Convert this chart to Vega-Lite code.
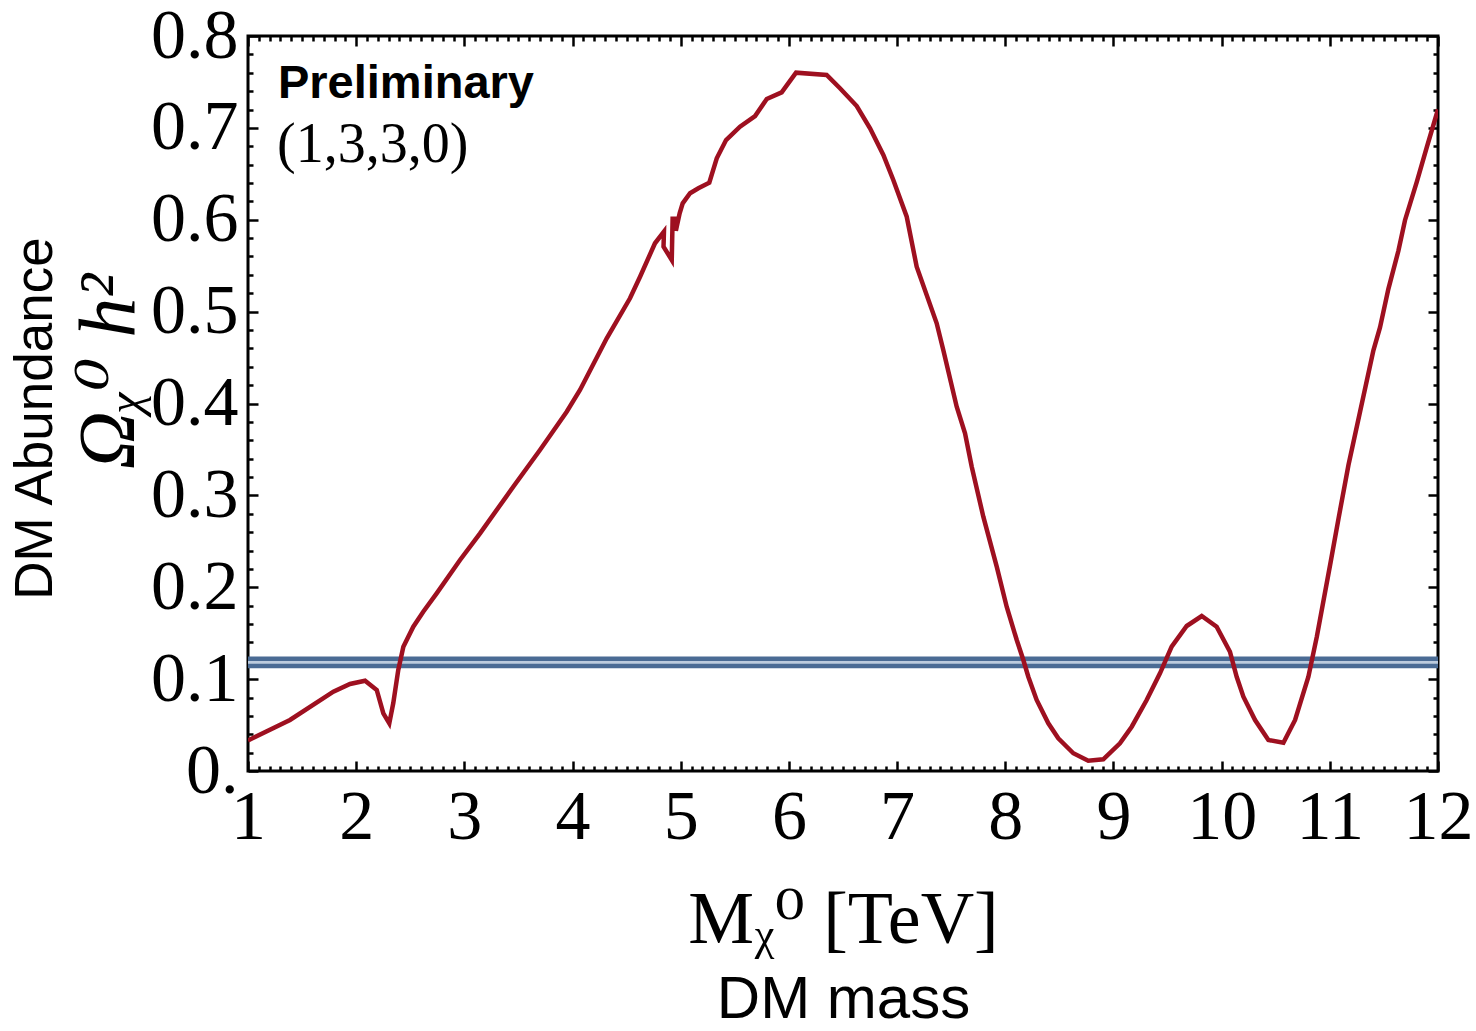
{
  "$schema": "https://vega.github.io/schema/vega-lite/v6.json",
  "width": 1190,
  "height": 735,
  "autosize": {"type": "none"},
  "padding": {"left": 248, "top": 36, "right": 38, "bottom": 260},
  "background": "white",
  "config": {
    "view": {"stroke": "black", "strokeWidth": 3},
    "axis": {"grid": false, "domain": false, "tickColor": "black", "labelColor": "black", "titleColor": "black", "tickWidth": 2.5}
  },
  "datasets": {
    "curve": [
      {"m": 1.000, "o": 0.0332}, {"m": 1.388, "o": 0.0555}, {"m": 1.789, "o": 0.0863}, {"m": 1.943, "o": 0.0947},
      {"m": 2.082, "o": 0.0983}, {"m": 2.190, "o": 0.0882}, {"m": 2.251, "o": 0.0628}, {"m": 2.306, "o": 0.0519},
      {"m": 2.343, "o": 0.0740}, {"m": 2.389, "o": 0.1099}, {"m": 2.436, "o": 0.1353}, {"m": 2.528, "o": 0.1571},
      {"m": 2.620, "o": 0.1734}, {"m": 2.744, "o": 0.1934}, {"m": 2.960, "o": 0.2297}, {"m": 3.145, "o": 0.2587},
      {"m": 3.452, "o": 0.3094}, {"m": 3.699, "o": 0.3494}, {"m": 3.946, "o": 0.3911}, {"m": 4.069, "o": 0.4147},
      {"m": 4.316, "o": 0.4710}, {"m": 4.531, "o": 0.5145}, {"m": 4.624, "o": 0.5380}, {"m": 4.762, "o": 0.5744},
      {"m": 4.845, "o": 0.5870}, {"m": 4.841, "o": 0.5707}, {"m": 4.917, "o": 0.5562}, {"m": 4.925, "o": 0.6010},
      {"m": 4.955, "o": 0.6010}, {"m": 4.955, "o": 0.5880}, {"m": 4.990, "o": 0.6070}, {"m": 5.018, "o": 0.6179},
      {"m": 5.086, "o": 0.6288}, {"m": 5.163, "o": 0.6342}, {"m": 5.264, "o": 0.6403}, {"m": 5.333, "o": 0.6669},
      {"m": 5.419, "o": 0.6868}, {"m": 5.548, "o": 0.7013}, {"m": 5.687, "o": 0.7129}, {"m": 5.795, "o": 0.7314},
      {"m": 5.933, "o": 0.7387}, {"m": 6.066, "o": 0.7601}, {"m": 6.349, "o": 0.7576}, {"m": 6.472, "o": 0.7431},
      {"m": 6.627, "o": 0.7238}, {"m": 6.750, "o": 0.6995}, {"m": 6.873, "o": 0.6705}, {"m": 6.965, "o": 0.6433},
      {"m": 7.089, "o": 0.6033}, {"m": 7.181, "o": 0.5489}, {"m": 7.366, "o": 0.4873}, {"m": 7.427, "o": 0.4582},
      {"m": 7.551, "o": 0.3965}, {"m": 7.628, "o": 0.3676}, {"m": 7.690, "o": 0.3312}, {"m": 7.797, "o": 0.2768},
      {"m": 7.921, "o": 0.2224}, {"m": 8.013, "o": 0.1788}, {"m": 8.106, "o": 0.1426}, {"m": 8.167, "o": 0.1208},
      {"m": 8.213, "o": 0.1026}, {"m": 8.290, "o": 0.0773}, {"m": 8.398, "o": 0.0519}, {"m": 8.490, "o": 0.0356},
      {"m": 8.629, "o": 0.0193}, {"m": 8.767, "o": 0.0112}, {"m": 8.906, "o": 0.0127}, {"m": 9.060, "o": 0.0301},
      {"m": 9.169, "o": 0.0482}, {"m": 9.307, "o": 0.0773}, {"m": 9.430, "o": 0.1063}, {"m": 9.538, "o": 0.1353},
      {"m": 9.677, "o": 0.1578}, {"m": 9.816, "o": 0.1687}, {"m": 9.954, "o": 0.1571}, {"m": 10.077, "o": 0.1298},
      {"m": 10.139, "o": 0.1026}, {"m": 10.201, "o": 0.0809}, {"m": 10.309, "o": 0.0555}, {"m": 10.432, "o": 0.0337},
      {"m": 10.571, "o": 0.0308}, {"m": 10.679, "o": 0.0555}, {"m": 10.802, "o": 0.1026}, {"m": 10.880, "o": 0.1462},
      {"m": 11.003, "o": 0.2245}, {"m": 11.080, "o": 0.2745}, {"m": 11.172, "o": 0.3328}, {"m": 11.280, "o": 0.3912},
      {"m": 11.403, "o": 0.4579}, {"m": 11.464, "o": 0.4828}, {"m": 11.541, "o": 0.5245}, {"m": 11.634, "o": 0.5662},
      {"m": 11.695, "o": 0.5995}, {"m": 11.804, "o": 0.6412}, {"m": 11.896, "o": 0.6787}, {"m": 12.000, "o": 0.7200}
    ],
    "band": [{"lo": 0.1143, "hi": 0.1221}],
    "limits": [{"v": 0.1143}, {"v": 0.1221}],
    "notes": [{"label": "Preliminary"}, {"label": "(1,3,3,0)"}]
  },
  "layer": [
    {
      "data": {"name": "band"},
      "mark": {"type": "rect", "color": "#bccbdd"},
      "encoding": {
        "y": {"field": "lo", "type": "quantitative", "axis": null},
        "y2": {"field": "hi"}
      }
    },
    {
      "data": {"name": "limits"},
      "mark": {"type": "rule", "color": "#4a6b94", "strokeWidth": 4.5},
      "encoding": {
        "y": {"field": "v", "type": "quantitative", "axis": null}
      }
    },
    {
      "data": {"name": "curve"},
      "mark": {"type": "line", "strokeOpacity": 0},
      "encoding": {
        "order": {"value": null},
        "x": {"field": "m", "type": "quantitative", "scale": {"domain": [1, 12], "nice": false, "zero": false},
          "axis": {"orient": "top", "values": [1,2,3,4,5,6,7,8,9,10,11,12], "tickSize": -10, "labels": false, "title": null}},
        "y": {"field": "o", "type": "quantitative", "scale": {"domain": [0, 0.8], "nice": false, "zero": false},
          "axis": {"orient": "right", "values": [0,0.1,0.2,0.3,0.4,0.5,0.6,0.7,0.8], "tickSize": -10, "labels": false, "title": null}}
      }
    },
    {
      "data": {"name": "curve"},
      "mark": {"type": "line", "strokeOpacity": 0},
      "encoding": {
        "order": {"value": null},
        "x": {"field": "m", "type": "quantitative",
          "axis": {"orient": "top", "tickSize": -5, "labels": false, "title": null,
            "values": [1.1,1.2,1.3,1.4,1.5,1.6,1.7,1.8,1.9,2.1,2.2,2.3,2.4,2.5,2.6,2.7,2.8,2.9,3.1,3.2,3.3,3.4,3.5,3.6,3.7,3.8,3.9,4.1,4.2,4.3,4.4,4.5,4.6,4.7,4.8,4.9,5.1,5.2,5.3,5.4,5.5,5.6,5.7,5.8,5.9,6.1,6.2,6.3,6.4,6.5,6.6,6.7,6.8,6.9,7.1,7.2,7.3,7.4,7.5,7.6,7.7,7.8,7.9,8.1,8.2,8.3,8.4,8.5,8.6,8.7,8.8,8.9,9.1,9.2,9.3,9.4,9.5,9.6,9.7,9.8,9.9,10.1,10.2,10.3,10.4,10.5,10.6,10.7,10.8,10.9,11.1,11.2,11.3,11.4,11.5,11.6,11.7,11.8,11.9]}},
        "y": {"field": "o", "type": "quantitative",
          "axis": {"orient": "right", "tickSize": -5, "labels": false, "title": null,
            "values": [0.02,0.04,0.06,0.08,0.12,0.14,0.16,0.18,0.22,0.24,0.26,0.28,0.32,0.34,0.36,0.38,0.42,0.44,0.46,0.48,0.52,0.54,0.56,0.58,0.62,0.64,0.66,0.68,0.72,0.74,0.76,0.78]}}
      }
    },
    {
      "data": {"name": "curve"},
      "mark": {"type": "line", "strokeOpacity": 0},
      "encoding": {
        "order": {"value": null},
        "x": {"field": "m", "type": "quantitative",
          "axis": {"orient": "bottom", "tickSize": -5, "labels": false,
            "title": "DM mass", "titleFont": "Liberation Sans", "titleFontSize": 60, "titleFontWeight": "normal", "titleBaseline": "alphabetic", "titlePadding": 245,
            "values": [1.1,1.2,1.3,1.4,1.5,1.6,1.7,1.8,1.9,2.1,2.2,2.3,2.4,2.5,2.6,2.7,2.8,2.9,3.1,3.2,3.3,3.4,3.5,3.6,3.7,3.8,3.9,4.1,4.2,4.3,4.4,4.5,4.6,4.7,4.8,4.9,5.1,5.2,5.3,5.4,5.5,5.6,5.7,5.8,5.9,6.1,6.2,6.3,6.4,6.5,6.6,6.7,6.8,6.9,7.1,7.2,7.3,7.4,7.5,7.6,7.7,7.8,7.9,8.1,8.2,8.3,8.4,8.5,8.6,8.7,8.8,8.9,9.1,9.2,9.3,9.4,9.5,9.6,9.7,9.8,9.9,10.1,10.2,10.3,10.4,10.5,10.6,10.7,10.8,10.9,11.1,11.2,11.3,11.4,11.5,11.6,11.7,11.8,11.9]}},
        "y": {"field": "o", "type": "quantitative",
          "axis": {"orient": "left", "tickSize": -5, "labels": false,
            "title": "DM Abundance", "titleFont": "Liberation Sans", "titleFontSize": 53, "titleFontWeight": "normal", "titleBaseline": "alphabetic", "titlePadding": 195, "titleY": 382,
            "values": [0.02,0.04,0.06,0.08,0.12,0.14,0.16,0.18,0.22,0.24,0.26,0.28,0.32,0.34,0.36,0.38,0.42,0.44,0.46,0.48,0.52,0.54,0.56,0.58,0.62,0.64,0.66,0.68,0.72,0.74,0.76,0.78]}}
      }
    },
    {
      "data": {"name": "curve"},
      "mark": {"type": "line", "color": "#9e1020", "strokeWidth": 4.5, "clip": true},
      "encoding": {
        "order": {"value": null},
        "x": {"field": "m", "type": "quantitative",
          "axis": {"orient": "bottom", "values": [1,2,3,4,5,6,7,8,9,10,11,12], "tickSize": -10,
            "labelFont": "Liberation Serif", "labelFontSize": 70, "labelBaseline": "alphabetic", "labelPadding": 77, "labelFlush": false, "labelOverlap": false,
            "title": "Mᵪ⁰ [TeV]", "titleFont": "Liberation Serif, DejaVu Serif", "titleFontSize": 74, "titleFontWeight": "normal", "titleBaseline": "alphabetic", "titlePadding": 90}},
        "y": {"field": "o", "type": "quantitative",
          "axis": {"orient": "left", "values": [0,0.1,0.2,0.3,0.4,0.5,0.6,0.7,0.8], "tickSize": -10,
            "labelFont": "Liberation Serif", "labelFontSize": 70, "labelPadding": 20, "labelFlush": false, "labelOverlap": false,
            "labelExpr": "datum.value == 0 ? '0.' : format(datum.value, '.1f')",
            "title": "Ωᵪ⁰ h²", "titleFont": "Liberation Serif, DejaVu Serif", "titleFontSize": 80, "titleFontStyle": "italic", "titleFontWeight": "normal", "titleBaseline": "alphabetic", "titlePadding": 17, "titleY": 335}}
      }
    },
    {
      "data": {"name": "notes"},
      "transform": [{"filter": "datum.label == 'Preliminary'"}],
      "mark": {"type": "text", "font": "Liberation Sans", "fontSize": 47, "fontWeight": "bold", "align": "left", "baseline": "alphabetic", "color": "black"},
      "encoding": {
        "text": {"field": "label"},
        "x": {"datum": 1.277, "type": "quantitative", "axis": null},
        "y": {"datum": 0.7322, "type": "quantitative", "axis": null}
      }
    },
    {
      "data": {"name": "notes"},
      "transform": [{"filter": "datum.label == '(1,3,3,0)'"}],
      "mark": {"type": "text", "font": "Liberation Serif", "fontSize": 56, "align": "left", "baseline": "alphabetic", "color": "black"},
      "encoding": {
        "text": {"field": "label"},
        "x": {"datum": 1.268, "type": "quantitative", "axis": null},
        "y": {"datum": 0.663, "type": "quantitative", "axis": null}
      }
    }
  ],
  "resolve": {"axis": {"x": "independent", "y": "independent"}}
}
